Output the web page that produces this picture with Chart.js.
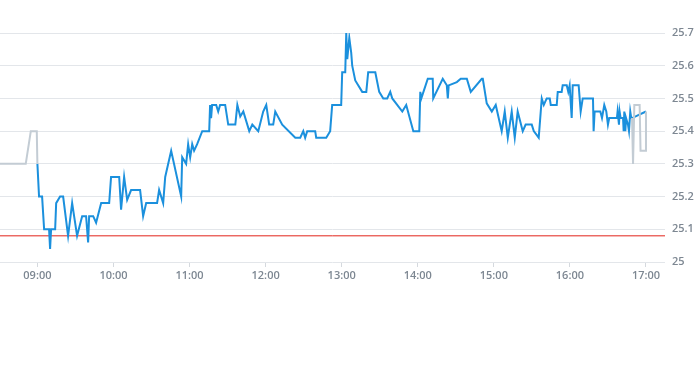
<!DOCTYPE html>
<html>
<head>
<meta charset="utf-8">
<script src="https://cdn.jsdelivr.net/npm/chart.js@4.4.0/dist/chart.umd.min.js"></script>
<style>
  html, body { margin: 0; padding: 0; background: #fff; }
  #wrap { width: 695px; height: 370px; }
</style>
</head>
<body>
<div id="wrap"><canvas id="myChart"></canvas></div>
<script>
// times are minutes after midnight
const preTimes = [510.5, 530.8, 534.8, 539.5, 540];
const preValues = [25.30, 25.30, 25.40, 25.40, 25.30];

const sessionTimes = [
  540, 541.3, 543.7, 545.3, 549.2, 550, 550.8, 554, 554.8, 557.9,
  560.3, 564.2, 567.4, 571.3, 575.3, 578.4, 580, 580.8, 584, 586.3,
  590.3, 596.6, 598.1, 604.5, 606, 608.4, 610.8, 613.9, 621, 623.4,
  625.8, 634.4, 636, 639.2, 640.8, 645.5, 653.4, 654.2, 657.3, 658.9,
  660.5, 662.1, 663.6, 666, 670, 675.5, 676.2, 677, 677.8, 681,
  682.6, 684.1, 688.1, 690.5, 696.1, 697.7, 700, 702.4, 707.1, 709.5,
  714.2, 718.1, 720.5, 722.8, 726, 727.6, 733.1, 743.4, 747.3, 749.7,
  751.2, 752.8, 759.1, 759.9, 767.8, 770.9, 772.5, 779.6, 780.4, 782.8,
  783.6, 784.4, 786, 787.5, 788.3, 790.7, 796.2, 799.4, 800.9, 806.5,
  809.6, 812.8, 815.9, 818.3, 819.9, 827.8, 830.9, 836.5, 841.2, 842,
  842.8, 847.9, 851.8, 852.2, 859.7, 862.9, 863.7, 864.4, 870.8, 873.9,
  878.7, 881.8, 890.5, 891.3, 894.4, 898.4, 901.5, 906.2, 908.6, 911,
  914.1, 916.5, 918.8, 922.8, 925.1, 929.9, 931.5, 935.4, 937.8, 939.4,
  941.7, 944.1, 944.9, 949.6, 950.4, 953.5, 954.3, 957.5, 958.7, 959.8,
  961.4, 962.2, 966.9, 968.5, 970.1, 978.2, 978.7, 979.5, 984, 985.3,
  987.1, 988.7, 990, 991, 997.1, 997.6, 998.7, 999.2, 1000, 1001.9,
  1002.4, 1002.9, 1003.7, 1004.3, 1005.8, 1006.6, 1007.6, 1008.4, 1009, 1020
];
const sessionValues = [
  25.30, 25.20, 25.20, 25.10, 25.10, 25.04, 25.10, 25.10, 25.18, 25.20,
  25.20, 25.08, 25.18, 25.08, 25.14, 25.14, 25.06, 25.14, 25.14, 25.12,
  25.18, 25.18, 25.26, 25.26, 25.16, 25.26, 25.19, 25.22, 25.22, 25.14,
  25.18, 25.18, 25.22, 25.18, 25.26, 25.34, 25.20, 25.32, 25.30, 25.36,
  25.32, 25.36, 25.34, 25.36, 25.40, 25.40, 25.48, 25.44, 25.48, 25.48,
  25.46, 25.48, 25.48, 25.42, 25.42, 25.48, 25.445, 25.46, 25.40, 25.42,
  25.40, 25.46, 25.48, 25.42, 25.42, 25.46, 25.42, 25.38, 25.38, 25.40,
  25.38, 25.40, 25.40, 25.38, 25.38, 25.40, 25.48, 25.48, 25.58, 25.58,
  25.70, 25.62, 25.685, 25.64, 25.60, 25.555, 25.52, 25.52, 25.58, 25.58,
  25.52, 25.50, 25.50, 25.52, 25.50, 25.46, 25.48, 25.40, 25.40, 25.52,
  25.50, 25.56, 25.56, 25.50, 25.56, 25.54, 25.50, 25.54, 25.55, 25.56,
  25.56, 25.52, 25.56, 25.56, 25.485, 25.46, 25.48, 25.40, 25.46, 25.38,
  25.46, 25.38, 25.46, 25.40, 25.42, 25.42, 25.40, 25.38, 25.50, 25.48,
  25.50, 25.50, 25.48, 25.48, 25.52, 25.52, 25.54, 25.54, 25.52, 25.54,
  25.44, 25.54, 25.54, 25.46, 25.50, 25.50, 25.40, 25.46, 25.46, 25.44,
  25.48, 25.46, 25.42, 25.44, 25.44, 25.46, 25.42, 25.46, 25.44, 25.44,
  25.40, 25.46, 25.40, 25.44, 25.42, 25.40, 25.46, 25.44, 25.44, 25.46
];

const afterTimes = [1009, 1009.8, 1010.8, 1015, 1015.7, 1019.4, 1020];
const afterValues = [25.44, 25.30, 25.48, 25.48, 25.34, 25.34, 25.46];

const prevClose = 25.08;
const hourTicks = [540, 600, 660, 720, 780, 840, 900, 960, 1020];
const xMin = 510.5, xMax = 1035;

function pts(ts, vs) {
  return ts.map((t, i) => ({ x: t, y: vs[i] }));
}
function hhmm(m) {
  const h = Math.floor(m / 60), mm = Math.round(m % 60);
  return String(h).padStart(2, '0') + ':' + String(mm).padStart(2, '0');
}

const tickFont = { family: 'Open Sans', size: 11, weight: '600' };
const tickColor = '#7d8792';

new Chart(document.getElementById('myChart'), {
  type: 'line',
  data: {
    datasets: [
      {
        data: pts(afterTimes, afterValues),
        borderColor: '#c3ccd4', borderWidth: 2, pointRadius: 0
      },
      {
        data: pts(preTimes, preValues),
        borderColor: '#c3ccd4', borderWidth: 2, pointRadius: 0
      },
      {
        data: pts(sessionTimes, sessionValues),
        borderColor: '#1b90dd', borderWidth: 2, pointRadius: 0
      },
      {
        data: pts([xMin, xMax], [prevClose, prevClose]),
        borderColor: '#e2231a', borderWidth: 1, pointRadius: 0
      }
    ]
  },
  options: {
    responsive: true,
    maintainAspectRatio: false,
    animation: false,
    events: [],
    layout: { padding: { top: 33, left: 0, right: 0, bottom: 0 } },
    plugins: { legend: { display: false }, tooltip: { enabled: false } },
    scales: {
      x: {
        type: 'linear',
        min: xMin,
        max: xMax,
        afterBuildTicks: s => { s.ticks = hourTicks.map(v => ({ value: v })); },
        afterFit: s => { s.height = 108; },
        grid: { drawOnChartArea: false, drawTicks: true, tickLength: 5, color: '#d5d9de' },
        border: { display: false },
        ticks: {
          autoSkip: false, maxRotation: 0, padding: 2,
          color: tickColor, font: tickFont,
          callback: v => hhmm(v)
        }
      },
      y: {
        position: 'right',
        min: 25,
        max: 25.7,
        afterFit: s => { s.width = 30; },
        grid: { drawTicks: false, color: '#e3e6ea' },
        border: { display: false },
        ticks: {
          stepSize: 0.1, padding: 7,
          color: tickColor, font: tickFont,
          callback: v => String(+v.toFixed(1))
        }
      }
    }
  }
});
</script>
</body>
</html>
